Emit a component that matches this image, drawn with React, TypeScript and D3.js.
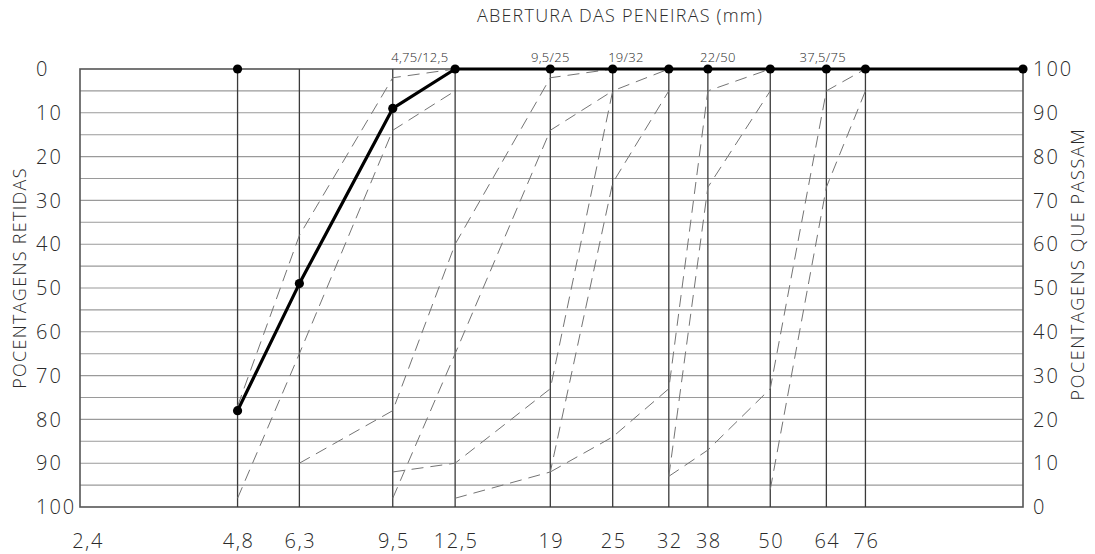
import React, { useEffect, useRef } from 'react';
import * as d3 from 'd3';

// sieve openings (mm) shown on the bottom axis
const tickValues = [2.4, 4.8, 6.3, 9.5, 12.5, 19, 25, 32, 38, 50, 64, 76];
const tickLabels = ['2,4', '4,8', '6,3', '9,5', '12,5', '19', '25', '32', '38', '50', '64', '76'];
const sieveLines = [4.8, 6.3, 9.5, 12.5, 19, 25, 32, 38, 50, 64, 76];
const percentTicks = [0, 10, 20, 30, 40, 50, 60, 70, 80, 90, 100];

// sample curve (cumulative % retained)
const sampleSieves = [4.8, 6.3, 9.5, 12.5, 19, 25, 32, 38, 50, 64, 76, 152];
const sampleRetained = [78, 49, 9, 0, 0, 0, 0, 0, 0, 0, 0, 0];
const extraDots = [[4.8, 0]];

// zone limits [sieve, % retained]
const zone1Fine = [[4.8, 77], [6.3, 38], [9.5, 2], [12.5, 0]];
const zone1Coarse = [[4.8, 98], [6.3, 65], [9.5, 14], [12.5, 5]];
const zone2Fine = [[6.3, 90], [9.5, 78], [12.5, 40], [19, 2], [25, 0]];
const zone2Coarse = [[9.5, 98], [12.5, 65], [19, 14], [25, 5]];
const zone3Fine = [[9.5, 92], [12.5, 90], [19, 73], [25, 5], [32, 0]];
const zone3Coarse = [[12.5, 98], [19, 92], [25, 26], [32, 5]];
const zone4Fine = [[19, 92], [25, 84], [32, 73], [38, 5], [50, 0]];
const zone4Coarse = [[32, 93], [38, 27], [50, 5]];
const zone5Fine = [[32, 93], [38, 87], [50, 73], [64, 5], [76, 0]];
const zone5Coarse = [[50, 96], [64, 27], [76, 5]];

const zoneNames = ['4,75/12,5', '9,5/25', '19/32', '22/50', '37,5/75'];
const zoneNameAt = [10.7, 19, 26.5, 39.7, 63];

const FONT = "'Open Sans', 'DejaVu Sans', sans-serif";

const App = () => {
  const svgRef = useRef(null);

  useEffect(() => {
    const svg = d3.select(svgRef.current);
    svg.selectAll('*').remove();

    const x = d3.scaleLog().domain([2.4, 152]).range([80, 1023]);
    const y = d3.scaleLinear().domain([0, 100]).range([69, 507]);
    const yPass = d3.scaleLinear().domain([100, 0]).range([69, 507]);

    const [x0, x1] = x.range();
    const [y0, y1] = y.range();

    // horizontal grid every 5 %
    svg.append('g')
      .selectAll('line')
      .data(d3.range(5, 100, 5))
      .join('line')
      .attr('x1', x0).attr('x2', x1)
      .attr('y1', d => y(d)).attr('y2', d => y(d))
      .attr('stroke', '#9a9a9a')
      .attr('stroke-width', 1.1);

    // frame
    svg.append('rect')
      .attr('x', x0).attr('y', y0)
      .attr('width', x1 - x0).attr('height', y1 - y0)
      .attr('fill', 'none')
      .attr('stroke', '#555')
      .attr('stroke-width', 1.6);

    // sieve verticals
    svg.append('g')
      .selectAll('line')
      .data(sieveLines)
      .join('line')
      .attr('x1', d => x(d)).attr('x2', d => x(d))
      .attr('y1', y0).attr('y2', y1)
      .attr('stroke', '#3a3a3a')
      .attr('stroke-width', 1.3);

    const line = d3.line().x(d => x(d[0])).y(d => y(d[1]));

    // zone limit curves
    const zones = [zone1Fine, zone1Coarse, zone2Fine, zone2Coarse, zone3Fine,
      zone3Coarse, zone4Fine, zone4Coarse, zone5Fine, zone5Coarse];
    svg.append('g')
      .selectAll('path')
      .data(zones)
      .join('path')
      .attr('d', line)
      .attr('fill', 'none')
      .attr('stroke', '#747474')
      .attr('stroke-width', 1)
      .attr('stroke-dasharray', '12,7');

    // sample curve
    const sample = sampleSieves.map((s, i) => [s, sampleRetained[i]]);
    svg.append('path')
      .datum(sample)
      .attr('d', line)
      .attr('fill', 'none')
      .attr('stroke', '#000')
      .attr('stroke-width', 3.2)
      .attr('stroke-linejoin', 'round');

    svg.append('g')
      .selectAll('circle')
      .data(sample.concat(extraDots))
      .join('circle')
      .attr('cx', d => x(d[0]))
      .attr('cy', d => y(d[1]))
      .attr('r', 4.6)
      .attr('fill', '#000');

    const text = svg.append('g')
      .attr('font-family', FONT)
      .attr('font-weight', 300)
      .attr('fill', '#2a2a2a');

    // left axis (% retained)
    text.append('g')
      .selectAll('text')
      .data(percentTicks)
      .join('text')
      .attr('x', 36)
      .attr('y', d => y(d))
      .attr('dy', '0.36em')
      .attr('font-size', 20)
      .attr('letter-spacing', 2)
      .text(d => d);

    // right axis (% passing)
    text.append('g')
      .selectAll('text')
      .data(percentTicks)
      .join('text')
      .attr('x', 1033)
      .attr('y', d => yPass(d))
      .attr('dy', '0.36em')
      .attr('font-size', 20)
      .attr('letter-spacing', 2)
      .text(d => d);

    // bottom axis
    text.append('g')
      .selectAll('text')
      .data(tickValues)
      .join('text')
      .attr('x', (d, i) => x(d) + (i === 0 ? 8 : 1))
      .attr('y', 541)
      .attr('dy', '0.36em')
      .attr('text-anchor', 'middle')
      .attr('font-size', 20)
      .attr('letter-spacing', 1.5)
      .text((d, i) => tickLabels[i]);

    // zone names on top
    text.append('g')
      .selectAll('text')
      .data(zoneNames)
      .join('text')
      .attr('x', (d, i) => x(zoneNameAt[i]))
      .attr('y', 57)
      .attr('dy', '0.36em')
      .attr('text-anchor', 'middle')
      .attr('font-size', 13)
      .attr('letter-spacing', 0.3)
      .text(d => d);

    text.append('text')
      .attr('x', 620).attr('y', 16)
      .attr('dy', '0.36em')
      .attr('text-anchor', 'middle')
      .attr('font-size', 18)
      .attr('letter-spacing', 1.2)
      .text('ABERTURA DAS PENEIRAS (mm)');

    text.append('text')
      .attr('transform', 'translate(20,278) rotate(-90)')
      .attr('dy', '0.36em')
      .attr('text-anchor', 'middle')
      .attr('font-size', 18)
      .attr('letter-spacing', 1.3)
      .text('POCENTAGENS RETIDAS');

    text.append('text')
      .attr('transform', 'translate(1078,264) rotate(-90)')
      .attr('dy', '0.36em')
      .attr('text-anchor', 'middle')
      .attr('font-size', 18)
      .attr('letter-spacing', 1.6)
      .text('POCENTAGENS QUE PASSAM');
  }, []);

  return (
    <svg ref={svgRef} width={1095} height={554}
      style={{ position: 'absolute', left: 0, top: 0, background: '#fff' }} />
  );
};

export default App;
